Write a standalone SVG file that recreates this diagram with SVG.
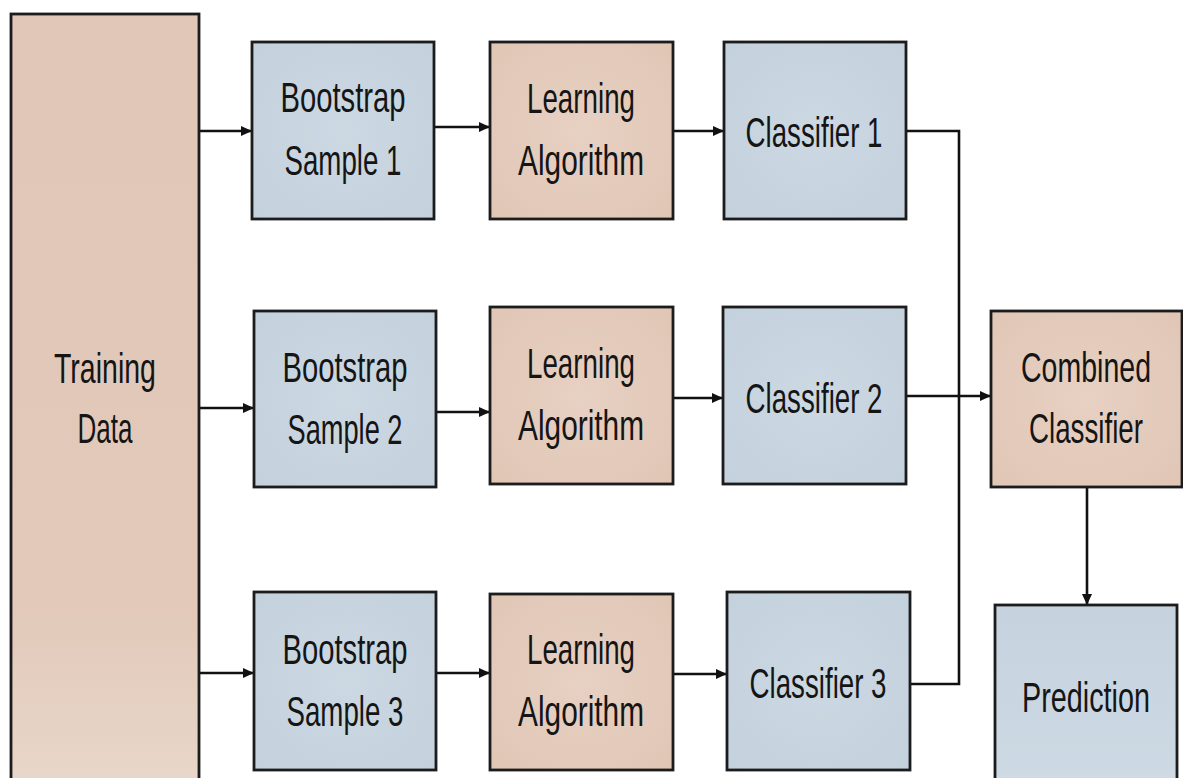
<svg xmlns="http://www.w3.org/2000/svg" width="1183" height="778" viewBox="0 0 1183 778">
  <defs>
    <radialGradient id="tanFill" cx="0.5" cy="0.5" r="0.75">
      <stop offset="0" stop-color="#e7d1c3"/>
      <stop offset="1" stop-color="#e0c5b4"/>
    </radialGradient>
    <radialGradient id="blueFill" cx="0.5" cy="0.5" r="0.75">
      <stop offset="0" stop-color="#ccd8e2"/>
      <stop offset="1" stop-color="#c3d1dd"/>
    </radialGradient>
    <linearGradient id="tanTall" x1="0" y1="0" x2="0" y2="1">
      <stop offset="0" stop-color="#e1c7b7"/>
      <stop offset="0.75" stop-color="#e2c9b9"/>
      <stop offset="1" stop-color="#e9d8cc"/>
    </linearGradient>
    <linearGradient id="bluePred" x1="0" y1="0" x2="0" y2="1">
      <stop offset="0" stop-color="#c6d3df"/>
      <stop offset="0.85" stop-color="#ccd8e2"/>
      <stop offset="1" stop-color="#d6e0e8"/>
    </linearGradient>
    <marker id="arrow" markerUnits="userSpaceOnUse" markerWidth="13" markerHeight="11" refX="11" refY="5" orient="auto">
      <path d="M0,0 L11,5 L0,10 z" fill="#111"/>
    </marker>
  </defs>
  <style>
    .box { stroke: #1c1c1c; stroke-width: 2.8; }
    .tan { fill: url(#tanFill); }
    .blue { fill: url(#blueFill); }
    .label { font-family: "Liberation Sans", Arial, sans-serif; font-size: 42px; fill: #151515; text-anchor: middle; }
    .link { fill: none; stroke: #111; stroke-width: 2.6; }
    .arrowed { marker-end: url(#arrow); }
  </style>

  <rect width="1183" height="778" fill="#ffffff"/>

  <!-- connectors -->
  <g id="connectors">
    <path class="link arrowed" d="M199,131 H252"/>
    <path class="link arrowed" d="M434,127 H490"/>
    <path class="link arrowed" d="M673,131 H724"/>
    <path class="link arrowed" d="M199,408 H254"/>
    <path class="link arrowed" d="M436,412 H490"/>
    <path class="link arrowed" d="M673,398 H723"/>
    <path class="link arrowed" d="M906,396 H991"/>
    <path class="link arrowed" d="M199,673 H254"/>
    <path class="link arrowed" d="M436,673 H490"/>
    <path class="link arrowed" d="M673,674 H727"/>
    <path class="link" d="M906,131 H959 V684 H910"/>
    <path class="link arrowed" d="M1087,487 V605"/>
  </g>

  <!-- nodes (labels are drawn narrow: scaled 0.69 horizontally) -->
  <g id="training-data">
    <rect class="box" x="11" y="14" width="188" height="790" fill="url(#tanTall)"/>
    <text class="label" transform="translate(105,383) scale(0.69,1)" textLength="147.8" lengthAdjust="spacingAndGlyphs">Training</text>
    <text class="label" transform="translate(105,443) scale(0.69,1)" textLength="79.7" lengthAdjust="spacingAndGlyphs">Data</text>
  </g>

  <g id="bootstrap-1">
    <rect class="box blue" x="252" y="42" width="182" height="177"/>
    <text class="label" transform="translate(343,112) scale(0.69,1)" textLength="181.2" lengthAdjust="spacingAndGlyphs">Bootstrap</text>
    <text class="label" transform="translate(343,175) scale(0.69,1)" textLength="169.6" lengthAdjust="spacingAndGlyphs">Sample 1</text>
  </g>
  <g id="learning-1">
    <rect class="box tan" x="490" y="42" width="183" height="177"/>
    <text class="label" transform="translate(581,113) scale(0.69,1)" textLength="156.5" lengthAdjust="spacingAndGlyphs">Learning</text>
    <text class="label" transform="translate(581,175) scale(0.69,1)" textLength="182.6" lengthAdjust="spacingAndGlyphs">Algorithm</text>
  </g>
  <g id="classifier-1">
    <rect class="box blue" x="724" y="42" width="182" height="177"/>
    <text class="label" transform="translate(814,147) scale(0.69,1)" textLength="198.6" lengthAdjust="spacingAndGlyphs">Classifier 1</text>
  </g>

  <g id="bootstrap-2">
    <rect class="box blue" x="254" y="311" width="182" height="176"/>
    <text class="label" transform="translate(345,382) scale(0.69,1)" textLength="181.2" lengthAdjust="spacingAndGlyphs">Bootstrap</text>
    <text class="label" transform="translate(345,444) scale(0.69,1)" textLength="166.7" lengthAdjust="spacingAndGlyphs">Sample 2</text>
  </g>
  <g id="learning-2">
    <rect class="box tan" x="490" y="307" width="183" height="177"/>
    <text class="label" transform="translate(581,378) scale(0.69,1)" textLength="156.5" lengthAdjust="spacingAndGlyphs">Learning</text>
    <text class="label" transform="translate(581,440) scale(0.69,1)" textLength="182.6" lengthAdjust="spacingAndGlyphs">Algorithm</text>
  </g>
  <g id="classifier-2">
    <rect class="box blue" x="723" y="307" width="183" height="177"/>
    <text class="label" transform="translate(814,413) scale(0.69,1)" textLength="198.6" lengthAdjust="spacingAndGlyphs">Classifier 2</text>
  </g>
  <g id="combined-classifier">
    <rect class="box tan" x="991" y="311" width="191" height="176"/>
    <text class="label" transform="translate(1086,382) scale(0.69,1)" textLength="188.4" lengthAdjust="spacingAndGlyphs">Combined</text>
    <text class="label" transform="translate(1086,443) scale(0.69,1)" textLength="165.2" lengthAdjust="spacingAndGlyphs">Classifier</text>
  </g>

  <g id="bootstrap-3">
    <rect class="box blue" x="254" y="592" width="182" height="178"/>
    <text class="label" transform="translate(345,664) scale(0.69,1)" textLength="181.2" lengthAdjust="spacingAndGlyphs">Bootstrap</text>
    <text class="label" transform="translate(345,726) scale(0.69,1)" textLength="169.6" lengthAdjust="spacingAndGlyphs">Sample 3</text>
  </g>
  <g id="learning-3">
    <rect class="box tan" x="490" y="594" width="183" height="176"/>
    <text class="label" transform="translate(581,664) scale(0.69,1)" textLength="156.5" lengthAdjust="spacingAndGlyphs">Learning</text>
    <text class="label" transform="translate(581,726) scale(0.69,1)" textLength="182.6" lengthAdjust="spacingAndGlyphs">Algorithm</text>
  </g>
  <g id="classifier-3">
    <rect class="box blue" x="727" y="592" width="183" height="178"/>
    <text class="label" transform="translate(818,698) scale(0.69,1)" textLength="198.6" lengthAdjust="spacingAndGlyphs">Classifier 3</text>
  </g>
  <g id="prediction">
    <rect class="box" x="995" y="605" width="182" height="190" fill="url(#bluePred)"/>
    <text class="label" transform="translate(1086,712) scale(0.69,1)" textLength="185.5" lengthAdjust="spacingAndGlyphs">Prediction</text>
  </g>
</svg>
